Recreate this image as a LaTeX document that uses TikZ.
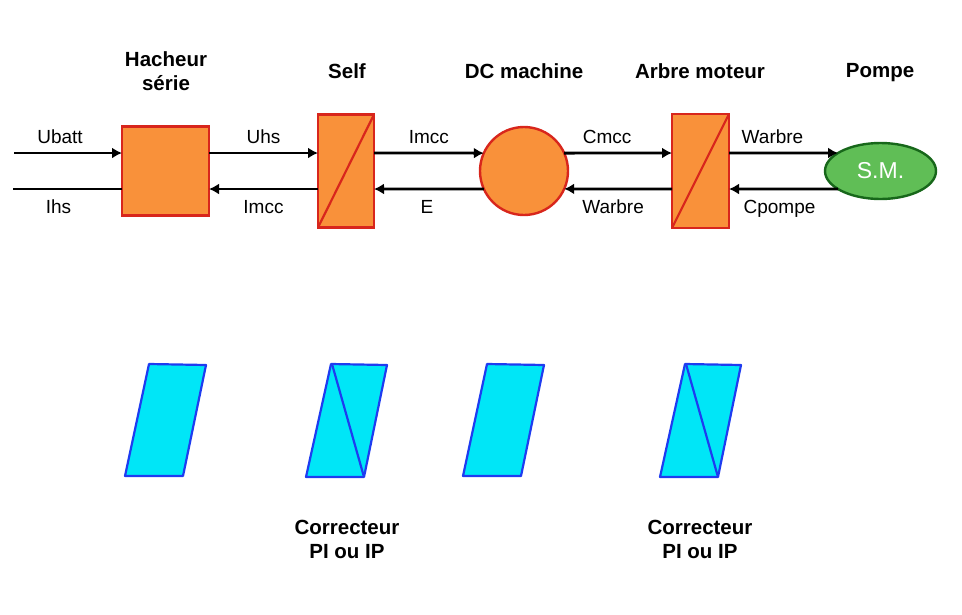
\documentclass[tikz,border=0pt]{standalone}
\usepackage{fontspec}
\setmainfont{Liberation Sans}
\usetikzlibrary{arrows.meta,shapes.geometric,positioning}

\definecolor{orangefill}{HTML}{F9913A}
\definecolor{redbord}{HTML}{D8261C}
\definecolor{greenfill}{HTML}{60BE56}
\definecolor{greenbord}{HTML}{17671A}
\definecolor{cyanfill}{HTML}{00E6F7}
\definecolor{bluebord}{HTML}{1E3CF0}

\begin{document}
\begin{tikzpicture}[x=1pt,y=-1pt,>={Latex[length=10pt,width=11pt]},line width=2.8pt,
	bloc/.style={draw=redbord,fill=orangefill,line width=2.4pt,inner sep=0pt,outer sep=0pt},
	lab/.style={font=\fontsize{19}{22}\selectfont,inner sep=0pt,text height=13pt,text depth=4pt},
	titre/.style={font=\fontsize{20.5}{24}\selectfont\bfseries,align=center,inner sep=0pt,anchor=north},
	corr/.style={draw=bluebord,fill=cyanfill,line width=2.2pt,line join=round}]
			\useasboundingbox (0,0) rectangle (962,614);
			% chaine de puissance
			\node[bloc,minimum width=87pt,minimum height=89pt] (hach) at (165.5,171) {};
			\node[bloc,minimum width=56pt,minimum height=113pt] (self) at (346,171) {};
			\node[bloc,circle,minimum size=88pt] (dcm) at (524,171) {};
			\node[bloc,minimum width=57pt,minimum height=114pt] (arbre) at (700.5,171) {};
			\node[ellipse,draw=greenbord,fill=greenfill,line width=2.4pt,inner sep=0pt,outer sep=0pt,
				minimum width=111pt,minimum height=56pt,text=white,font=\fontsize{23}{26}\selectfont] (pompe) at (880.5,171) {S.M.};
			\draw[redbord,line width=2.2pt] (self.south west) -- (self.north east);
			\draw[redbord,line width=2.2pt] (arbre.south west) -- (arbre.north east);
			\coordinate (entree) at (14,153);
			\coordinate (sortie) at (13,189);
			% titres
			\node[titre] (t_hach) at (166,50) {Hacheur\\série};
			\node[titre] (t_self) at (347,62) {Self};
			\node[titre] (t_dcm) at (524,62) {DC machine};
			\node[titre] (t_arbre) at (700,62) {Arbre moteur};
			\node[titre] (t_pompe) at (880,62) {Pompe};
			% fleches
			\path[->]
			(entree) edge node[lab,above=4pt,xshift=-8pt] {Ubatt} ([yshift=18pt]hach.west)
			([yshift=18pt]hach.east) edge node[lab,above=4pt] {Uhs} ([yshift=18pt]self.west)
			([yshift=-18pt]self.west) edge node[lab,below=10pt] {Imcc} ([yshift=-18pt]hach.east)
			([yshift=18pt]self.east) edge node[lab,above=4pt] {Imcc} (dcm.156)
			(dcm.204) edge node[lab,below=10pt,xshift=-2pt] {E} ([yshift=-18pt]self.east)
			(dcm.24) edge node[lab,above=4pt,xshift=-11pt] {Cmcc} ([yshift=18pt]arbre.west)
			([yshift=-18pt]arbre.west) edge node[lab,below=10pt,xshift=-5pt] {Warbre} (dcm.336)
			([yshift=18pt]arbre.east) edge node[lab,above=4pt,xshift=-11pt] {Warbre} (pompe.157)
			(pompe.203) edge node[lab,below=10pt,xshift=-4pt] {Cpompe} ([yshift=-18pt]arbre.east);
			\draw ([yshift=-18pt]hach.west) -- node[lab,below=10pt,xshift=-9pt] {Ihs} (sortie);
			% correcteurs
			\foreach \x in {125,463}
				\draw[corr] (\x,476) -- (\x+58,476) -- (\x+81,365) -- (\x+24,364) -- cycle;
			\foreach \x in {306,660}{
				\draw[corr] (\x,477) -- (\x+58,477) -- (\x+81,365) -- (\x+25,364) -- cycle;
				\draw[corr] (\x+26,364) -- (\x+58,477);
			}
			\node[titre] (t_corr1) at (347,519) {Correcteur\\PI ou IP};
			\node[titre] (t_corr2) at (700,519) {Correcteur\\PI ou IP};
		\end{tikzpicture}
\end{document}
